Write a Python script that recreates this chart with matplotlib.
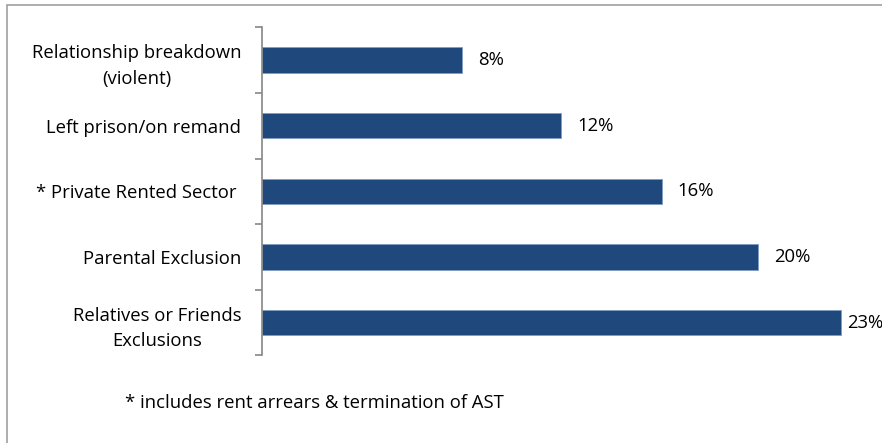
import matplotlib
matplotlib.use("Agg")
import matplotlib.pyplot as plt
from matplotlib.patches import Rectangle

categories = ["Relationship breakdown\n(violent)", "Left prison/on remand",
              "* Private Rented Sector ", "Parental Exclusion",
              "Relatives or Friends\nExclusions"]
values = [7.94, 11.9, 15.89, 19.72, 23.0]
value_labels = ["8%", "12%", "16%", "20%", "23%"]
footnote = "* includes rent arrears & termination of AST"

W, H = 882, 443
fig = plt.figure(figsize=(W / 100, H / 100), dpi=100)
plt.rcParams['font.family'] = ['Open Sans', 'DejaVu Sans']
FS = 13.3

# outer border (chart area cropped at right/bottom)
fig.patches.append(Rectangle((7 / W, -0.1), 1.2, 1 - 5 / H + 0.1, transform=fig.transFigure,
                             fill=False, edgecolor="#a0a0a0", linewidth=1.2))

left, right = 262 / W, 882 / W
top, bottom = 1 - 27.3 / H, 1 - 355.3 / H
ax = fig.add_axes([left, bottom, right - left, top - bottom])
ypos = list(range(len(categories)))
ax.barh(ypos, values, height=0.39, color="#1F497D", edgecolor="#7f9cc4", linewidth=0.6)
ax.set_ylim(len(categories) - 0.5, -0.5)
ax.set_xlim(0, 620 / 25.16)

for s in ["top", "right", "bottom"]:
    ax.spines[s].set_visible(False)
ax.spines["left"].set_color("#868686")
ax.spines["left"].set_linewidth(1.2)
ax.set_xticks([])
ax.set_yticks(ypos)
ax.set_yticklabels(categories, fontsize=FS, multialignment="center", linespacing=1.55)
ax.tick_params(axis="y", which="major", length=0, pad=15)
ax.set_yticks([i - 0.5 for i in range(len(categories) + 1)], minor=True)
ax.tick_params(axis="y", which="minor", length=5, width=1.2, color="#868686")

for y, v, lab in zip(ypos, values, value_labels):
    ax.annotate(lab, (v, y), xytext=(11.5 if v < 22 else 4.5, 0), textcoords="offset points",
                va="center", ha="left", fontsize=FS, color="black", annotation_clip=False)

fig.text(125 / W, 1 - 403 / H, footnote, fontsize=FS, va="center", ha="left")

fig.savefig("out.png", dpi=100)
